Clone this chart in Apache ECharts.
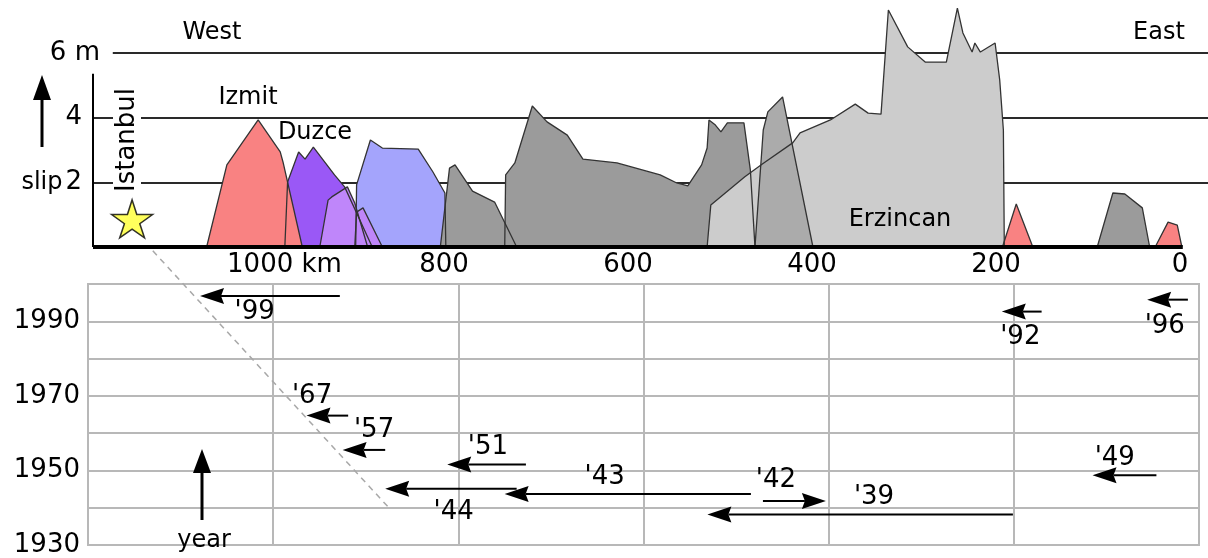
<!DOCTYPE html>
<html><head><meta charset="utf-8">
<script src="https://cdn.jsdelivr.net/npm/echarts@6/dist/echarts.min.js"></script>
<style>html,body{margin:0;padding:0;background:#fff}#c{width:1208px;height:558px}</style>
</head><body><div id="c"></div>
<script>
// ---------- DATA ----------
// slip profiles along the fault: [distance km (from east end), slip m]
const slipDuzce   = [[973,0],[970,2.01],[958,2.94],[951,2.72],[942,3.09],[919,2.23],[908,1.86],[878,0]];
const slipIzmit   = [[1058,0],[1036,2.54],[1002,3.93],[978,2.94],[975,2.63],[954,0]];
const slip1957    = [[896,0],[895,1.92],[880,3.31],[867,3.06],[828,3.03],[812,2.32],[799,1.67],[798,0]];
const slip1967a   = [[935,0],[926,1.45],[922,1.55],[905,1.86],[903,1.92],[897,1.36],[883,0]];
const slip1967b   = [[897,0],[895,1.08],[888,1.21],[867,0]];
const slip1944    = [[804,0],[794,2.44],[788,2.54],[769,1.73],[745,1.39],[721,0]];
const slip1943    = [[734,0],[733,2.23],[723,2.60],[704,4.36],[688,3.87],[666,3.46],[649,2.72],[612,2.60],[565,2.23],[547,1.98],[535,1.89],[520,2.54],[514,3.06],[512,3.93],[505,3.77],[499,3.56],[492,3.84],[474,3.84],[467,2.38],[462,0]];
const slip1939    = [[514,0],[510,1.30],[473,2.17],[454,2.57],[421,3.22],[413,3.53],[380,3.93],[353,4.42],[339,4.14],[325,4.11],[317,7.33],[296,6.19],[277,5.72],[254,5.72],[242,7.39],[236,6.62],[226,6.03],[223,6.31],[217,6.03],[201,6.31],[196,5.17],[192,3.62],[191,0]];
const slip1942    = [[462,0],[453,3.62],[448,4.18],[432,4.64],[399,0]];
const slip1992    = [[193,0],[178,1.33],[160,0]];
const slip1949    = [[90,0],[73,1.67],[60,1.64],[41,1.21],[33,0]];
const slip1966    = [[27,0],[13,0.77],[3,0.68],[-2,0]];
const istanbulPoint = [[1139, 0.87]];

const distTicks = [0, 200, 400, 600, 800, 1000];
const slipTicks = [2, 4, 6];
const yearTicks = [1930, 1950, 1970, 1990];

// rupture arrows in the year panel (panel units 0..1200 from the east edge)
const quakeNames   = ["'99", "'67", "'57", "'44", "'51", "'43", "'42", "'39", "'92", "'96", "'49"];
const ruptureFrom  = [928, 919, 879, 737, 727, 484, 471, 201, 170, 12, 46];
const ruptureTo    = [1079, 964, 925, 879, 812, 750, 403, 531, 213, 56, 115];
const ruptureYear  = [1996.8, 1964.7, 1955.5, 1945.1, 1951.6, 1943.7, 1941.8, 1938.2, 1992.6, 1995.8, 1948.7];
const labelPos     = [1020, 958, 891, 805, 768, 642, 457, 351, 193, 37, 91];
const labelYear    = [1992.4, 1970.0, 1960.8, 1938.9, 1956.3, 1948.2, 1947.4, 1942.9, 1985.8, 1988.7, 1953.4];
const propagation  = [[1130, 2008.9], [874, 1939.7]];

// ---------- CHART ----------
const FONT = 'DejaVu Sans';
const chart = echarts.init(document.getElementById('c'));

function poly(name, data, color) {
  return {
    name, type: 'line', xAxisIndex: 0, yAxisIndex: 0, data,
    showSymbol: false, symbol: 'none', silent: true, z: 2,
    lineStyle: { color: '#333', width: 1.3 },
    areaStyle: { color, opacity: 1 }
  };
}

const PINK = '#f98282', PURPLE = '#9a58f6', LPURPLE = '#bf86fa', BLUE = '#a4a4fc',
      DGREY = '#9b9b9b', LGREY = '#cccccc', MGREY = '#ababab';

const series = [
  poly('Duzce', slipDuzce, PURPLE),
  poly('Izmit', slipIzmit, PINK),
  poly('1957', slip1957, BLUE),
  poly('1967a', slip1967a, LPURPLE),
  poly('1967b', slip1967b, LPURPLE),
  poly('1944', slip1944, DGREY),
  poly('1943', slip1943, DGREY),
  poly('1939', slip1939, LGREY),
  poly('1942', slip1942, MGREY),
  poly('1992', slip1992, PINK),
  poly('1949', slip1949, DGREY),
  poly('1966', slip1966, PINK),
];

// reference lines under the polygons
series[0].markLine = {
  silent: true, z: 1, symbol: ['none', 'none'], animation: false,
  label: { show: false },
  lineStyle: { type: 'solid', color: '#2a2a2a', width: 2 },
  data: [
    [{ xAxis: 1160, yAxis: 6 }, { xAxis: -30.4, yAxis: 6 }],
    [{ xAxis: 1181.5, yAxis: 4 }, { xAxis: -30.4, yAxis: 4 }],
    [{ xAxis: 1181.5, yAxis: 2 }, { xAxis: -30.4, yAxis: 2 }],
  ]
};
// axes lines above polygons
series.push({
  type: 'line', xAxisIndex: 0, yAxisIndex: 0, data: [], silent: true, z: 3,
  markLine: {
    silent: true, z: 4, symbol: ['none', 'none'], animation: false, label: { show: false },
    data: [
      [{ xAxis: 1181.5, yAxis: 0, lineStyle: { color: '#000', width: 4, type: 'solid' } }, { xAxis: -3, yAxis: 0 }],
      [{ xAxis: 1181.5, yAxis: 0, lineStyle: { color: '#000', width: 2, type: 'solid' } }, { xAxis: 1181.5, yAxis: 5.36 }],
    ]
  }
});
// Istanbul star
series.push({
  type: 'scatter', xAxisIndex: 0, yAxisIndex: 0, data: istanbulPoint, z: 6, silent: true,
  symbol: 'path://M50,0 L61,35 L98,35 L68,57 L79,91 L50,70 L21,91 L32,57 L2,35 L39,35 Z',
  symbolSize: [41, 38],
  itemStyle: { color: '#ffff33', borderColor: '#000', borderWidth: 1.5 }
});
// propagation dashed line
series.push({
  type: 'line', xAxisIndex: 1, yAxisIndex: 1, data: propagation, clip: false, silent: true,
  symbol: 'none', showSymbol: false, z: 3,
  lineStyle: { color: '#a8a8a8', width: 1.5, type: [6, 5] }
});
// rupture arrows
series.push({
  type: 'custom', xAxisIndex: 1, yAxisIndex: 1, silent: true, z: 5,
  data: quakeNames.map((n, i) => [ruptureFrom[i], ruptureTo[i], ruptureYear[i], labelPos[i], labelYear[i]]),
  renderItem(params, api) {
    const i = params.dataIndex;
    const a = api.coord([api.value(0), api.value(2)]);
    const b = api.coord([api.value(1), api.value(2)]);
    const lp = api.coord([api.value(3), api.value(4)]);
    const dir = Math.sign(b[0] - a[0]) || 1;
    const HL = 24, HW = 8;
    const base = b[0] - dir * HL;
    return {
      type: 'group', children: [
        { type: 'line', shape: { x1: a[0], y1: a[1], x2: base + dir * 3, y2: b[1] }, style: { stroke: '#000', lineWidth: 2 } },
        { type: 'polygon', shape: { points: [[b[0], b[1]], [base, b[1] - HW], [base + dir * 3, b[1]], [base, b[1] + HW]] }, style: { fill: '#000' } },
        { type: 'text', x: lp[0], y: lp[1], style: { text: quakeNames[i], fontSize: 26, fontFamily: FONT, fill: '#000', align: 'center', verticalAlign: 'middle' } }
      ]
    };
  }
});

const txt = (text, x, y, size, extra) => Object.assign({
  type: 'text', x, y, z: 50, silent: true,
  style: Object.assign({ text, fontSize: size, fontFamily: FONT, fill: '#000', align: 'center', verticalAlign: 'middle' }, extra || {})
});

const option = {
  animation: false,
  backgroundColor: '#fff',
  grid: [
    { left: 93, right: 0, top: 0, bottom: 311, show: false },
    { left: 88, right: 9, top: 284, bottom: 8, show: true, borderColor: '#b8b8b8', borderWidth: 2 }
  ],
  xAxis: [
    {
      type: 'value', gridIndex: 0, inverse: true, min: -30.4, max: 1181.5,
      axisLine: { show: false }, axisTick: { show: false }, splitLine: { show: false },
      axisLabel: {
        customValues: distTicks, margin: 5, color: '#000', fontSize: 26, fontFamily: FONT,
        formatter: v => v === 1000 ? '{p| }{n|1000 km}' : '{n|' + v + '}',
        rich: { n: { fontSize: 26, fontFamily: FONT, color: '#000' }, p: { width: 49 } }
      }
    },
    {
      type: 'value', gridIndex: 1, inverse: true, min: 0, max: 1200, interval: 200,
      axisLine: { show: false }, axisTick: { show: false }, axisLabel: { show: false },
      splitLine: { show: true, lineStyle: { color: '#b8b8b8', width: 2 } }
    }
  ],
  yAxis: [
    {
      type: 'value', gridIndex: 0, min: 0, max: 7.64,
      axisLine: { show: false }, axisTick: { show: false }, splitLine: { show: false },
      axisLabel: {
        customValues: slipTicks, margin: -7, color: '#000',
        formatter: v => v === 6 ? '{n|6 m}' : v === 4 ? '{n|4}{s| }' : '{w|slip}{g| }{n|2}{s| }',
        rich: {
          n: { fontSize: 26, fontFamily: FONT, color: '#000' },
          w: { fontSize: 24, fontFamily: FONT, color: '#000' },
          s: { width: 18 }, g: { width: 3 }
        }
      }
    },
    {
      type: 'value', gridIndex: 1, min: 1930, max: 2000, interval: 10,
      axisLine: { show: false }, axisTick: { show: false },
      splitLine: { show: true, lineStyle: { color: '#b8b8b8', width: 2 } },
      axisLabel: { customValues: yearTicks, margin: 8, color: '#000', fontSize: 26, fontFamily: FONT, formatter: v => String(v) }
    }
  ],
  graphic: [
    txt('West', 212, 33, 24),
    txt('East', 1159, 33, 24),
    txt('Izmit', 248, 98, 24),
    txt('Duzce', 315, 133, 24),
    txt('Erzincan', 900, 220, 24),
    txt('year', 204, 541, 24),
    Object.assign(txt('Istanbul', 127, 140, 26, { backgroundColor: '#fff', padding: [1, 2] }), { rotation: Math.PI / 2 }),
    { type: 'line', z: 50, silent: true, shape: { x1: 42, y1: 147, x2: 42, y2: 97 }, style: { stroke: '#000', lineWidth: 3 } },
    { type: 'polygon', z: 50, silent: true, shape: { points: [[42, 75], [33, 100], [51, 100]] }, style: { fill: '#000' } },
    { type: 'line', z: 50, silent: true, shape: { x1: 202, y1: 520, x2: 202, y2: 470 }, style: { stroke: '#000', lineWidth: 3 } },
    { type: 'polygon', z: 50, silent: true, shape: { points: [[202, 449], [193, 473], [211, 473]] }, style: { fill: '#000' } }
  ],
  series
};
chart.setOption(option);
</script>
</body></html>
